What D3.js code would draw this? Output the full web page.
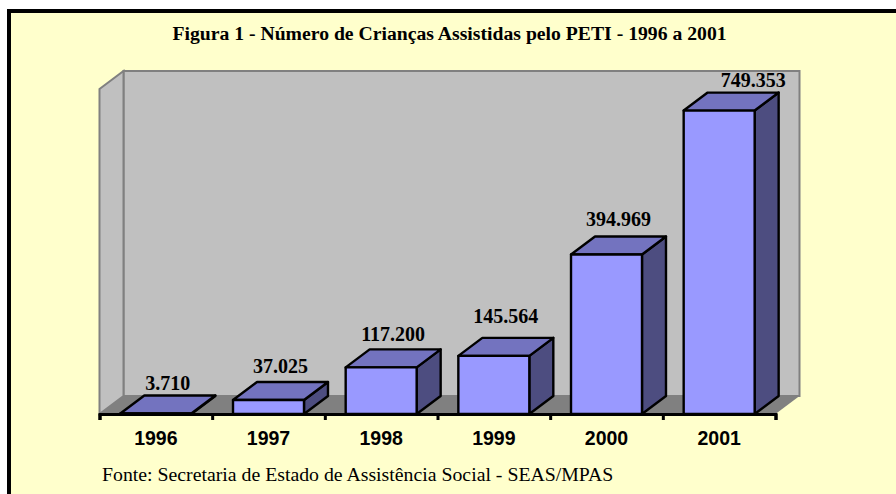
<!DOCTYPE html>
<html>
<head>
<meta charset="utf-8">
<script src="https://cdn.jsdelivr.net/npm/d3@7"></script>
<style>
html, body { margin: 0; padding: 0; background: #ffffcc; }
svg { display: block; }
.serif { font-family: "Liberation Serif", serif; fill: #000; }
.sans { font-family: "Liberation Sans", sans-serif; fill: #000; }
</style>
</head>
<body>
<svg id="chart"></svg>
<script>
const years = ['1996', '1997', '1998', '1999', '2000', '2001'];
const criancas = [3710, 37025, 117200, 145564, 394969, 749353];
const valueLabels = ['3.710', '37.025', '117.200', '145.564', '394.969', '749.353'];
const titulo = 'Figura 1 - Número de Crianças Assistidas pelo PETI - 1996 a 2001';
const fonte = 'Fonte: Secretaria de Estado de Assistência Social - SEAS/MPAS';

const width = 896, height = 494;
const depth = {x: 24, y: 18};

const svg = d3.select('#chart').attr('width', width).attr('height', height);

svg.append('rect').attr('width', width).attr('height', height).attr('fill', '#fff');
// frame: black on the top and left only, the rest runs off the picture
svg.append('rect')
    .attr('x', 9).attr('y', 11)
    .attr('width', width + 20).attr('height', height + 20)
    .attr('fill', '#ffffcc')
    .attr('stroke', '#000')
    .attr('stroke-width', 4);

const xscale = d3.scaleBand()
    .domain(years)
    .range([99.5, 775.5])
    .paddingInner(0.37)
    .paddingOuter(0.185);

const yscale = d3.scaleLinear()
    .domain([0, 800000])
    .range([414, 89]);

const x0 = xscale.range()[0], x1 = xscale.range()[1];
const y0 = yscale(0), yTop = yscale(800000);

const poly = pts => pts.map(p => p.join(',')).join(' ');

// back wall, left wall and floor
svg.append('polygon')
    .attr('points', poly([[x0 + depth.x, yTop - depth.y], [x1 + depth.x, yTop - depth.y], [x1 + depth.x, y0 - depth.y], [x0 + depth.x, y0 - depth.y]]))
    .attr('fill', '#c0c0c0').attr('stroke', '#808080').attr('stroke-width', 2);
svg.append('polygon')
    .attr('points', poly([[x0, yTop], [x0 + depth.x, yTop - depth.y], [x0 + depth.x, y0 - depth.y], [x0, y0]]))
    .attr('fill', '#c0c0c0').attr('stroke', '#808080').attr('stroke-width', 2);
svg.append('polygon')
    .attr('points', poly([[x0, y0], [x0 + depth.x, y0 - depth.y], [x1 + depth.x, y0 - depth.y], [x1, y0]]))
    .attr('fill', '#808080');

// bars
const bars = svg.append('g').selectAll('g')
    .data(years.map((y, i) => ({year: y, value: criancas[i], label: valueLabels[i]})))
    .join('g');

const barLine = g => g.attr('stroke', '#000').attr('stroke-width', 2.4).attr('stroke-linejoin', 'round');

bars.append('polygon')
    .attr('points', d => {
        const r = xscale(d.year) + xscale.bandwidth(), t = yscale(d.value) + 1;
        return poly([[r, t], [r + depth.x, t - depth.y], [r + depth.x, y0 - depth.y], [r, y0]]);
    })
    .attr('fill', '#4d4d80')
    .call(barLine);

bars.append('polygon')
    .attr('points', d => {
        const l = xscale(d.year), r = l + xscale.bandwidth(), t = yscale(d.value) + 1;
        return poly([[l, t], [l + depth.x, t - depth.y], [r + depth.x, t - depth.y], [r, t]]);
    })
    .attr('fill', '#7373bf')
    .call(barLine);

bars.append('rect')
    .attr('x', d => xscale(d.year))
    .attr('y', d => yscale(d.value) + 1)
    .attr('width', xscale.bandwidth())
    .attr('height', d => y0 - yscale(d.value) - 1)
    .attr('fill', '#9999ff')
    .call(barLine);

// value labels were placed by hand in the original chart, so they sit unevenly over the bars
const labelShiftX = {'1996': 0, '1997': 0, '1998': 0, '1999': 0, '2000': 0, '2001': 22};
const labelShiftY = {'1996': -2, '1997': 2, '1998': 1, '1999': 8, '2000': 4, '2001': -1};

bars.append('text')
    .attr('class', 'serif')
    .attr('x', d => xscale(d.year) + xscale.bandwidth() / 2 + depth.x / 2 + labelShiftX[d.year])
    .attr('y', d => yscale(d.value) - depth.y - 6 - labelShiftY[d.year])
    .attr('text-anchor', 'middle')
    .style('font-size', '20px')
    .style('font-weight', 'bold')
    .text(d => d.label);

// axis line with ticks on the category boundaries
const tickscale = d3.scaleLinear().domain([0, years.length]).range([x0, x1]);
const axis = d3.axisBottom(tickscale)
    .tickValues(d3.range(years.length + 1))
    .tickFormat('')
    .tickSize(6)
    .tickSizeOuter(6);
svg.append('g')
    .attr('transform', `translate(0, ${y0})`)
    .call(axis)
    .call(g => g.selectAll('path, line').attr('stroke', '#000').attr('stroke-width', 3));

// year labels
svg.append('g').selectAll('text')
    .data(years)
    .join('text')
    .attr('class', 'sans')
    .attr('x', d => xscale(d) + xscale.bandwidth() / 2)
    .attr('y', 445)
    .attr('text-anchor', 'middle')
    .style('font-size', '19.5px')
    .style('font-weight', 'bold')
    .text(d => d);

svg.append('text')
    .attr('class', 'serif')
    .attr('x', 449.5).attr('y', 40)
    .attr('text-anchor', 'middle')
    .style('font-size', '19.7px')
    .style('font-weight', 'bold')
    .text(titulo);

svg.append('text')
    .attr('class', 'serif')
    .attr('x', 102).attr('y', 481)
    .style('font-size', '19.8px')
    .text(fonte);
</script>
</body>
</html>
